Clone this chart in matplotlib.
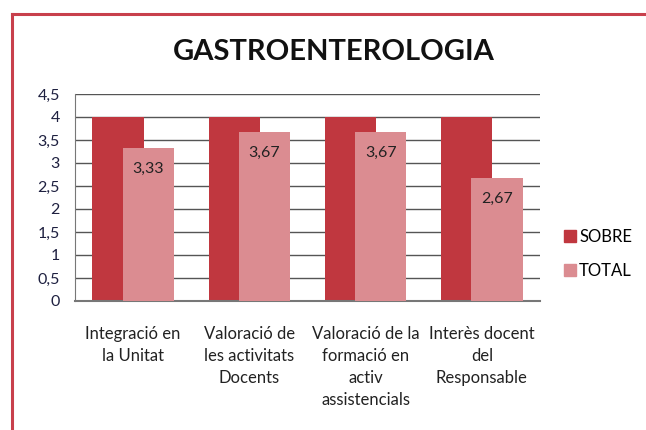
import matplotlib
matplotlib.use("Agg")
import matplotlib.pyplot as plt
from matplotlib.lines import Line2D
from matplotlib.patches import Patch
import numpy as np

plt.rcParams['font.family'] = ['Lato', 'DejaVu Sans']

categories = ["Integració en\nla Unitat",
              "Valoració de\nles activitats\nDocents",
              "Valoració de la\nformació en\nactiv\nassistencials",
              "Interès docent\ndel\nResponsable"]
sobre = [4, 4, 4, 4]
total = [3.33, 3.67, 3.67, 2.67]
total_labels = ["3,33", "3,67", "3,67", "2,67"]
yticks = [0, 0.5, 1, 1.5, 2, 2.5, 3, 3.5, 4, 4.5]
ytick_labels = ["0", "0,5", "1", "1,5", "2", "2,5", "3", "3,5", "4", "4,5"]

fig = plt.figure(figsize=(6.46, 4.30), dpi=100)
fig.patch.set_facecolor('white')

# figure border
fig.add_artist(Line2D([12/646, 12/646], [0.005, 1 - 14/430], color='#C8404C', lw=2.2))
fig.add_artist(Line2D([12/646, 1.0], [1 - 14/430, 1 - 14/430], color='#C8404C', lw=2.2))

ax = fig.add_axes([75/646, 1 - 301/430, 465/646, 207/430])
x = np.arange(len(categories))
w = 0.44
off = 0.13
ax.bar(x - off, sobre, width=w, color='#C0373F', zorder=2)
bars = ax.bar(x + off, total, width=w, color='#DB8C91', zorder=3)
for b, lab in zip(bars, total_labels):
    ax.text(b.get_x() + b.get_width()/2, b.get_height() - 0.3, lab,
            ha='center', va='top', fontsize=11.5, color='#222222', zorder=4)

ax.set_xlim(-0.5, 3.5)
ax.set_ylim(0, 4.5)
ax.set_yticks(yticks)
ax.set_yticklabels(ytick_labels, fontsize=11.5, color='#1E2040')
ax.set_xticks(x)
ax.set_xticklabels(categories, fontsize=12, color='#222222', linespacing=1.45)
ax.tick_params(axis='y', length=0, pad=11)
ax.tick_params(axis='x', length=0, pad=18)
ax.yaxis.grid(True, color='#555555', lw=1.0, zorder=1)
ax.set_axisbelow(True)
for s in ['top', 'right']:
    ax.spines[s].set_visible(False)
ax.spines['left'].set_color('#777777')
ax.spines['bottom'].set_color('#777777')
ax.spines['bottom'].set_linewidth(1.5)

fig.text(334/646, 1 - 52/430, "GASTROENTEROLOGIA", ha='center', va='center',
         fontsize=21, fontweight='bold', color='#111111')

handles = [Patch(color='#C0373F'), Patch(color='#DB8C91')]
fig.legend(handles, ["SOBRE", "TOTAL"], loc='center left',
           bbox_to_anchor=(564/646, 1 - 254/430), frameon=False,
           fontsize=12, handlelength=0.7, handleheight=0.7,
           handletextpad=0.2, labelspacing=1.1, borderaxespad=0, borderpad=0)

fig.savefig("out.png", dpi=100)
